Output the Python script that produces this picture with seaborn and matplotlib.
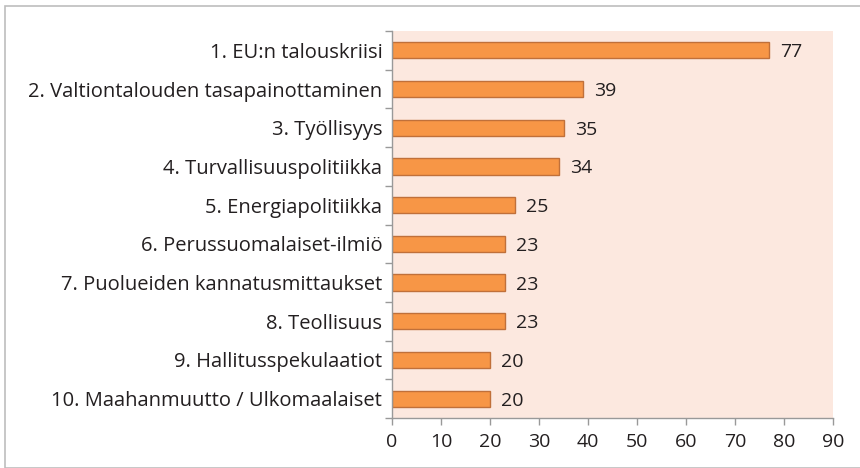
import matplotlib
matplotlib.use("Agg")
import matplotlib.pyplot as plt
import seaborn as sns
import pandas as pd
import numpy as np
from matplotlib.patches import Rectangle

categories = ["1. EU:n talouskriisi", "2. Valtiontalouden tasapainottaminen", "3. Työllisyys",
              "4. Turvallisuuspolitiikka", "5. Energiapolitiikka", "6. Perussuomalaiset-ilmiö",
              "7. Puolueiden kannatusmittaukset", "8. Teollisuus", "9. Hallitusspekulaatiot",
              "10. Maahanmuutto / Ulkomaalaiset"]
values = [77, 39, 35, 34, 25, 23, 23, 23, 20, 20]
xticks = [0, 10, 20, 30, 40, 50, 60, 70, 80, 90]

sns.set_style("white")
plt.rcParams['font.family'] = ['Open Sans', 'DejaVu Sans']

TXT = "#231F20"
df = pd.DataFrame({"cat": categories, "val": values})

fig = plt.figure(figsize=(8.6, 4.68), dpi=100)
fig.patches.append(Rectangle((5/860, 0), 1, 1 - 6/468, transform=fig.transFigure,
                             fill=False, edgecolor="#bdbdbd", linewidth=1.2))
ax = fig.add_axes([392/860, 1 - 418/468, 441/860, 387/468])
ax.set_facecolor("#FCE8DF")

sns.barplot(data=df, y="cat", x="val", orient="h", color="#F79646",
            edgecolor="#C0703A", linewidth=1.0, width=0.42, saturation=1, ax=ax)

ax.set_xlim(0, 90)
ax.set_ylim(len(categories) - 0.5, -0.5)
ax.set_xticks(xticks)
ax.set_xlabel("")
ax.set_ylabel("")
ax.tick_params(axis="x", bottom=True, labelsize=14, labelcolor=TXT, length=5, width=1,
               color="#999999", direction="out", pad=6)
ax.tick_params(axis="y", which="major", left=True, labelsize=14.5, length=0, pad=7, labelcolor=TXT)
ax.set_yticks(np.arange(-0.5, len(categories), 1.0), minor=True)
ax.tick_params(axis="y", which="minor", left=True, length=5, width=1, color="#999999", direction="out")

for s in ["top", "right"]:
    ax.spines[s].set_visible(False)
for s in ["left", "bottom"]:
    ax.spines[s].set_color("#999999")
    ax.spines[s].set_linewidth(1)

for c in ax.containers:
    texts = ax.bar_label(c, labels=[str(v) for v in values], padding=8, fontsize=14, color=TXT)
    for t in texts:
        t.set_verticalalignment("center_baseline")

fig.savefig("out.png", dpi=100)
